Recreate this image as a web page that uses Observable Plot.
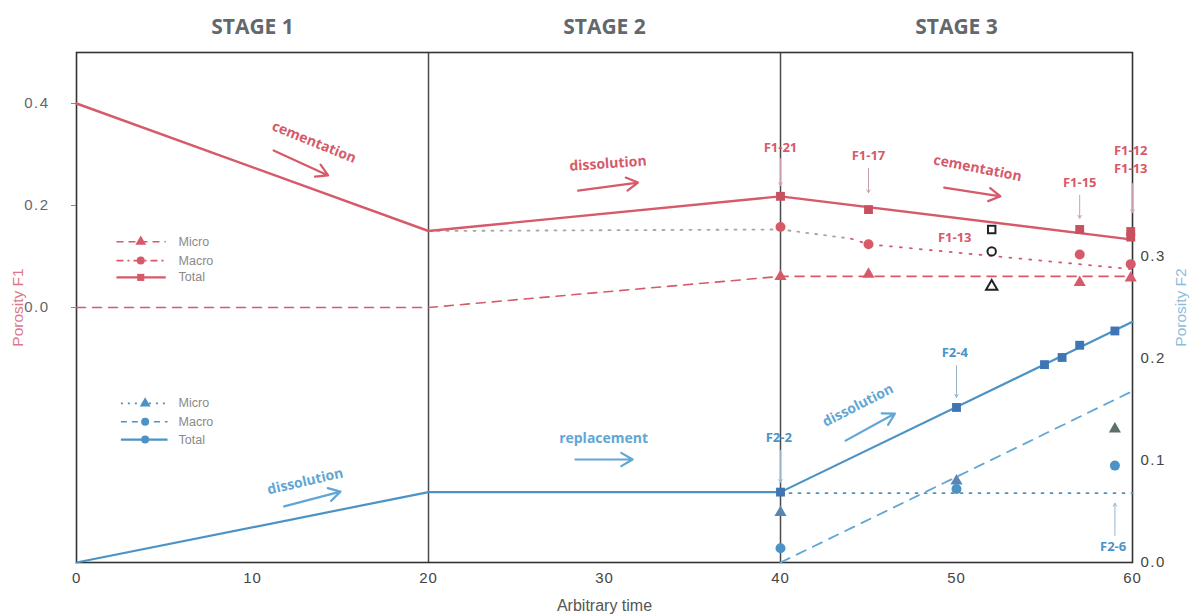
<!DOCTYPE html>
<html>
<head>
<meta charset="utf-8">
<script src="https://cdn.jsdelivr.net/npm/d3@7"></script>
<script src="https://cdn.jsdelivr.net/npm/@observablehq/plot@0.6"></script>
<style>
  html, body { margin: 0; padding: 0; background: #fff; }
  #chart { width: 1192px; height: 616px; }
</style>
</head>
<body>
<div id="chart"></div>
<script>
// ---------- DATA ----------
// x = arbitrary time; F1 on the left axis, F2 on the right axis
const xTicks = [0, 10, 20, 30, 40, 50, 60];
const f1Ticks = [0.0, 0.2, 0.4];
const f2Ticks = [0.0, 0.1, 0.2, 0.3];
const stages = ["STAGE 1", "STAGE 2", "STAGE 3"];
const stageCenters = [10, 30, 50];
const stageBounds = [20, 40];

// F1 modelled curves
const f1TotalT = [0, 20, 40, 60], f1TotalV = [0.40, 0.15, 0.218, 0.133];
const f1MacroT1 = [20, 40, 44], f1MacroV1 = [0.15, 0.153, 0.135];
const f1MacroT2 = [44, 45, 60], f1MacroV2 = [0.135, 0.124, 0.075];
const f1MicroT = [0, 20, 40, 60], f1MicroV = [0.0, 0.0, 0.061, 0.061];
// F1 samples
const f1SqT = [40, 45, 57, 59.9, 59.9], f1SqV = [0.218, 0.192, 0.153, 0.149, 0.138];
const f1CiT = [40, 45, 57, 59.9], f1CiV = [0.158, 0.124, 0.104, 0.085];
const f1TrT = [40, 45, 57, 59.9], f1TrV = [0.061, 0.065, 0.049, 0.058];
// F1-13 open symbols
const f1OpenT = 52, f1OpenSq = 0.153, f1OpenCi = 0.110, f1OpenTr = 0.041;

// F2 modelled curves
const f2TotalT = [0, 20, 40, 60], f2TotalV = [0.0, 0.069, 0.069, 0.236];
const f2MacroT = [40, 60], f2MacroV = [0.0, 0.168];
const f2MicroT = [40, 60], f2MicroV = [0.068, 0.068];
// F2 samples
const f2SqT = [40, 50, 55, 56, 57, 59], f2SqV = [0.069, 0.152, 0.194, 0.201, 0.213, 0.227];
const f2CiT = [40, 50, 59], f2CiV = [0.014, 0.072, 0.095];
const f2TrT = [40, 50, 59], f2TrV = [0.049, 0.080, 0.131];

// Process annotations (time, F1-equivalent height, text, angle)
const redProcT = [13.5, 30.2, 51.2], redProcY = [0.324, 0.282, 0.273];
const redProcText = ["cementation", "dissolution", "cementation"], redProcRot = [22, -4, 11];
const redArrX1 = [11.2, 28.5, 49.3], redArrY1 = [0.308, 0.229, 0.235];
const redArrX2 = [14.3, 31.9, 52.5], redArrY2 = [0.259, 0.245, 0.218];

const blueProcT = [13.0, 29.95, 44.4], blueProcY = [-0.341, -0.257, -0.192];
const blueProcText = ["dissolution", "replacement", "dissolution"], blueProcRot = [-13, 0, -27];
const blueArrX1 = [11.8, 28.35, 43.7], blueArrY1 = [-0.390, -0.298, -0.261];
const blueArrX2 = [15.0, 31.6, 46.5], blueArrY2 = [-0.361, -0.298, -0.208];

// Sample names
const f1LabT = [40, 45, 57, 59.9, 59.9, 49.9], f1LabY = [0.314, 0.298, 0.245, 0.308, 0.271, 0.137];
const f1LabText = ["F1-21", "F1-17", "F1-15", "F1-12", "F1-13", "F1-13"];
const f1PtrT = [40, 45, 57, 60], f1PtrY1 = [0.292, 0.273, 0.220, 0.243], f1PtrY2 = [0.239, 0.225, 0.175, 0.186];
const f2LabT = [39.9, 49.9, 58.9], f2LabY = [-0.255, -0.088, -0.470];
const f2LabText = ["F2-2", "F2-4", "F2-6"];
const f2PtrT = [40, 50, 59], f2PtrY1 = [-0.280, -0.114, -0.447], f2PtrY2 = [-0.343, -0.176, -0.384];

// Legends
const legNames = ["Micro", "Macro", "Total"];
const redLegY = [0.129, 0.092, 0.059];
const blueLegY = [-0.188, -0.224, -0.259];

// ---------- COLOURS ----------
const RED = "#d65a6a", BLUE = "#4b93c6", BLUE_DK = "#3e75b4", BLUE_LT = "#62a6d4";

// ---------- HELPERS ----------
const f2y = v => v * 2 - 0.5; // F2 value -> shared y coordinate
const pts = (xs, ys, f = v => v) => xs.map((x, i) => ({x, y: f(ys[i])}));

const legRows = (ys, styles) => ys.map((y, i) => ({y, name: legNames[i], ...styles[i]}));
const redLeg = legRows(redLegY, [
  {dash: "7,5", sym: "triangle"}, {dash: "7,4,2,4", sym: "circle"}, {dash: null, sym: "square"}]);
const blueLeg = legRows(blueLegY, [
  {dash: "2,5", sym: "triangle"}, {dash: "6,5", sym: "circle"}, {dash: null, sym: "circle"}]);

const legendMarks = (rows, color, x1, x2, xm) => [
  ...rows.map(r => Plot.ruleY([r.y], {x1, x2, stroke: color, strokeWidth: r.dash ? 1.6 : 2.4, strokeDasharray: r.dash})),
  Plot.dot(rows, {x: xm, y: "y", symbol: "sym", fill: color, r: 4}),
  Plot.text(rows, {x: 5.8, y: "y", text: "name", textAnchor: "start", fill: "#8a8a8a", fontSize: 12.5, fontFamily: "Liberation Sans", ariaLabel: "legend-text"})
];

const chart = Plot.plot({
  width: 1192,
  height: 616,
  marginLeft: 76,
  marginRight: 60,
  marginTop: 52,
  marginBottom: 54,
  style: {fontFamily: "Liberation Sans, sans-serif", background: "#fff", overflow: "visible"},
  x: {domain: [0, 60]},
  y: {domain: [-0.5, 0.5]},
  marks: [
    // stage dividers and frame
    Plot.ruleX(stageBounds, {stroke: "#4a4a4a", strokeWidth: 1.5}),
    Plot.frame({stroke: "#333", strokeWidth: 1.6}),

    // axes
    Plot.axisX({ticks: xTicks, tickSize: 0, tickPadding: 10, fontSize: 15, fill: "#444", label: null}),
    Plot.axisY({anchor: "left", ticks: f1Ticks, tickFormat: d3.format(".1f"), tickSize: 5, tickPadding: 22, fontSize: 15, fill: "#666", stroke: "#888", label: null}),
    Plot.axisY({anchor: "right", ticks: f2Ticks.map(f2y), tickFormat: d => d3.format(".1f")((d + 0.5) / 2), tickSize: 0, tickPadding: 8, fontSize: 15, fill: "#444", label: null}),
    Plot.text(["Porosity F1"], {frameAnchor: "left", textAnchor: "middle", dx: -58, rotate: -90, fill: "#d9788a", fontSize: 15.5, ariaLabel: "ytitle"}),
    Plot.text(["Porosity F2"], {frameAnchor: "right", textAnchor: "middle", dx: 49, rotate: -90, fill: "#8ebcdc", fontSize: 15.5, ariaLabel: "ytitle"}),
    Plot.text(["Arbitrary time"], {frameAnchor: "bottom", dy: 48, fill: "#555", fontSize: 16, ariaLabel: "xtitle"}),

    // stage titles
    Plot.text(stages, {x: (d, i) => stageCenters[i], frameAnchor: "top", dy: -33, fill: "#62686b", fontSize: 21, fontWeight: 700, fontFamily: "Open Sans", ariaLabel: "stage"}),

    // F1 curves
    Plot.line(pts(f1MicroT, f1MicroV), {x: "x", y: "y", stroke: RED, strokeWidth: 1.6, strokeDasharray: "9,7"}),
    Plot.line(pts(f1MacroT1, f1MacroV1), {x: "x", y: "y", stroke: "#a9a4a6", strokeWidth: 1.8, strokeDasharray: "2,7"}),
    Plot.line(pts(f1MacroT2, f1MacroV2), {x: "x", y: "y", stroke: RED, strokeWidth: 1.8, strokeDasharray: "2,8"}),
    Plot.line(pts(f1TotalT, f1TotalV), {x: "x", y: "y", stroke: RED, strokeWidth: 2.4}),

    // F2 curves
    Plot.line(pts(f2MicroT, f2MicroV, f2y), {x: "x", y: "y", stroke: BLUE, strokeWidth: 1.8, strokeDasharray: "2,7"}),
    Plot.line(pts(f2MacroT, f2MacroV, f2y), {x: "x", y: "y", stroke: BLUE_LT, strokeWidth: 1.8, strokeDasharray: "10,8"}),
    Plot.line(pts(f2TotalT, f2TotalV, f2y), {x: "x", y: "y", stroke: BLUE, strokeWidth: 2.2}),

    // F1 samples
    Plot.dot(pts(f1TrT, f1TrV), {x: "x", y: "y", symbol: "triangle", fill: RED, r: 4.5}),
    Plot.dot(pts(f1CiT, f1CiV), {x: "x", y: "y", symbol: "circle", fill: RED, r: 5}),
    Plot.dot(pts(f1SqT, f1SqV), {x: "x", y: "y", symbol: "square", fill: "#c8505f", r: 5}),
    Plot.dot([{x: f1OpenT, y: f1OpenSq, s: "square"}, {x: f1OpenT, y: f1OpenCi, s: "circle"}, {x: f1OpenT, y: f1OpenTr, s: "triangle"}],
      {x: "x", y: "y", symbol: "s", stroke: "#222", strokeWidth: 2, fill: "none", r: 4.2}),

    // F2 samples
    Plot.dot(pts(f2TrT, f2TrV, f2y), {x: "x", y: "y", symbol: "triangle", fill: (d, i) => i === 2 ? "#5c6f6c" : "#5b86b0", r: 4.5}),
    Plot.dot(pts(f2CiT, f2CiV, f2y), {x: "x", y: "y", symbol: "circle", fill: BLUE, r: 5}),
    Plot.dot(pts(f2SqT, f2SqV, f2y), {x: "x", y: "y", symbol: "square", fill: BLUE_DK, r: 5}),

    // process annotations
    Plot.text(redProcText, {x: (d, i) => redProcT[i], y: (d, i) => redProcY[i], rotate: (d, i) => redProcRot[i], fill: RED, fontSize: 14, fontWeight: 700, fontFamily: "Open Sans"}),
    Plot.arrow(redProcText, {x1: (d, i) => redArrX1[i], y1: (d, i) => redArrY1[i], x2: (d, i) => redArrX2[i], y2: (d, i) => redArrY2[i], stroke: RED, strokeWidth: 2.2, headLength: 9}),
    Plot.text(blueProcText, {x: (d, i) => blueProcT[i], y: (d, i) => blueProcY[i], rotate: (d, i) => blueProcRot[i], fill: BLUE_LT, fontSize: 14, fontWeight: 700, fontFamily: "Open Sans"}),
    Plot.arrow(blueProcText, {x1: (d, i) => blueArrX1[i], y1: (d, i) => blueArrY1[i], x2: (d, i) => blueArrX2[i], y2: (d, i) => blueArrY2[i], stroke: BLUE_LT, strokeWidth: 2.2, headLength: 9}),

    // sample names + pointers
    Plot.text(f1LabText, {x: (d, i) => f1LabT[i], y: (d, i) => f1LabY[i], fill: RED, fontSize: 13, fontWeight: 700, fontFamily: "Open Sans"}),
    Plot.arrow(f1PtrT, {x1: d => d, x2: d => d, y1: (d, i) => f1PtrY1[i], y2: (d, i) => f1PtrY2[i], stroke: "#c9a0a8", strokeWidth: 1, headLength: 5}),
    Plot.text(f2LabText, {x: (d, i) => f2LabT[i], y: (d, i) => f2LabY[i], fill: BLUE, fontSize: 13, fontWeight: 700, fontFamily: "Open Sans"}),
    Plot.arrow(f2PtrT, {x1: d => d, x2: d => d, y1: (d, i) => f2PtrY1[i], y2: (d, i) => f2PtrY2[i], stroke: "#9ab4c8", strokeWidth: 1, headLength: 5}),

    // legends
    ...legendMarks(redLeg, RED, 2.3, 5.1, 3.65),
    ...legendMarks(blueLeg, BLUE, 2.55, 5.2, 3.9)
  ]
});
// letter spacing like the scanned original
const svg = d3.select(chart);
svg.selectAll('[aria-label="y-axis tick label"] text').style("letter-spacing", "1.5px");
svg.selectAll('[aria-label="ytitle"] text').style("letter-spacing", "1.5px");
svg.selectAll('[aria-label="xtitle"] text').style("letter-spacing", "0.8px");
svg.selectAll('[aria-label="stage"] text').style("letter-spacing", "0.6px");
svg.selectAll('[aria-label="x-axis tick label"] text').style("letter-spacing", "0.8px");
document.getElementById("chart").appendChild(chart);
</script>
</body>
</html>
